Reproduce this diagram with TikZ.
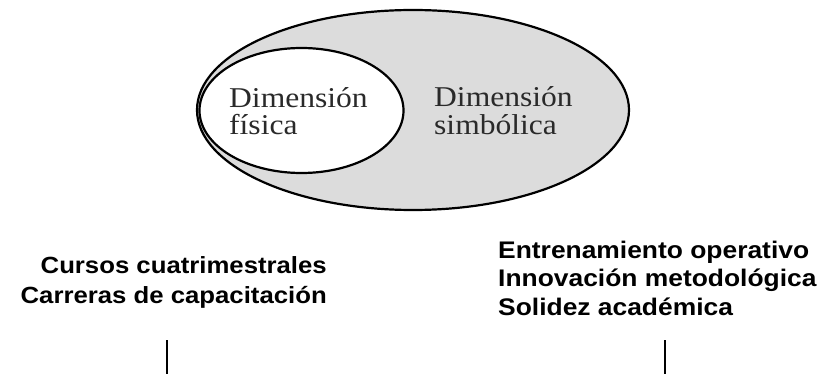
\documentclass[tikz,border=0pt]{standalone}
\usepackage{fontspec}
\setmainfont{Liberation Serif}
\newfontfamily\serifwide[FakeStretch=1.1]{Liberation Serif}
\newfontfamily\sanswide[FakeStretch=1.1]{Liberation Sans}
\definecolor{fillgray}{HTML}{DCDCDC}
\definecolor{textgray}{HTML}{2A2A2A}
\tikzset{
  dimlabel/.style={inner sep=0pt, align=left, text=textgray,
    font=\serifwide\fontsize{28.7}{27.5}\selectfont},
  itemsleft/.style={inner sep=0pt, align=right,
    font=\sanswide\bfseries\fontsize{23.4}{30}\selectfont},
  itemsright/.style={inner sep=0pt, align=left,
    font=\sanswide\bfseries\fontsize{24}{28.5}\selectfont},
  ovalline/.style={draw=black, line width=2.2pt},
  stem/.style={draw=black, line width=2pt}
}
\begin{document}
\begin{tikzpicture}[x=1pt,y=-1pt]
\useasboundingbox (0,0) rectangle (822,374);
% outer and inner ellipses
\draw[ovalline, fill=fillgray] (413,110) ellipse [x radius=216, y radius=100];
\draw[ovalline, fill=white] (301.5,110.5) ellipse [x radius=102, y radius=62.5];
% labels (base anchor = baseline of last line)
\node[dimlabel, anchor=base west] (fis) at (229,135) {Dimensión\\física};
\node[dimlabel, anchor=base west] (sim) at (434,134.5) {Dimensión\\simbólica};
% bottom texts
\node[itemsleft, anchor=base east] (left) at (327,303) {Cursos cuatrimestrales\\Carreras de capacitación};
\node[itemsright, anchor=base west] (right) at (498,315) {Entrenamiento operativo\\Innovación metodológica\\Solidez académica};
% vertical stems
\coordinate (l1) at (167,340);
\coordinate (l2) at (167,374);
\coordinate (r1) at (665,340);
\coordinate (r2) at (665,374);
\draw[stem] (l1) -- (l2);
\draw[stem] (r1) -- (r2);
\end{tikzpicture}
\end{document}
